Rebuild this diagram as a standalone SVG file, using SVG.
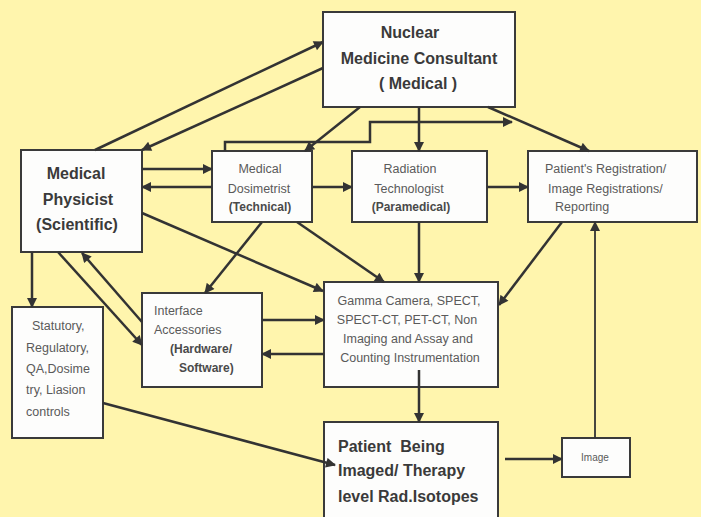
<svg xmlns="http://www.w3.org/2000/svg" width="701" height="517" viewBox="0 0 701 517">
<style>
.box{fill:#fdfdfc;stroke:#3a3a3a;stroke-width:2}
.big{font-family:"Liberation Sans",Arial,sans-serif;font-weight:bold;font-size:16px;fill:#3a3a3a}
.sm{font-family:"Liberation Sans",Arial,sans-serif;font-size:12.5px;fill:#5a5a5a}
.smb{font-family:"Liberation Sans",Arial,sans-serif;font-size:12px;font-weight:bold;fill:#4a4a4a}
.c{text-anchor:middle}
.la{fill:none;stroke:#333;stroke-width:2.5;marker-end:url(#ah)}
.lt{fill:none;stroke:#333;stroke-width:1.8;marker-end:url(#ah)}
</style>
<defs>
<marker id="ah" viewBox="0 0 10 10" refX="9" refY="5" markerWidth="11" markerHeight="10" markerUnits="userSpaceOnUse" orient="auto">
<path d="M0,0 L10,5 L0,10 z" fill="#333"/>
</marker>
</defs>
<rect width="701" height="517" fill="#fff5ad"/>

<g id="consultant">
<rect class="box" x="323" y="12" width="192" height="95"/>
<text class="big c" x="410" y="38">Nuclear</text>
<text class="big c" x="419" y="64">Medicine Consultant</text>
<text class="big c" x="418" y="89">( Medical )</text>
</g>

<g id="physicist">
<rect class="box" x="21" y="150" width="121" height="102"/>
<text class="big c" x="76" y="179">Medical</text>
<text class="big c" x="78" y="205">Physicist</text>
<text class="big c" x="77" y="230">(Scientific)</text>
</g>

<g id="dosimetrist">
<rect class="box" x="212" y="151" width="100" height="71"/>
<text class="sm c" x="260" y="173">Medical</text>
<text class="sm c" x="259" y="193">Dosimetrist</text>
<text class="smb c" x="260" y="211">(Technical)</text>
</g>

<g id="radtech">
<rect class="box" x="352" y="151" width="135" height="71"/>
<text class="sm c" x="410" y="173">Radiation</text>
<text class="sm c" x="409" y="193">Technologist</text>
<text class="smb c" x="411" y="211">(Paramedical)</text>
</g>

<g id="registration">
<rect class="box" x="528" y="151" width="169" height="71"/>
<text class="sm" x="545" y="173">Patient's Registration/</text>
<text class="sm" x="548" y="193">Image Registrations/</text>
<text class="sm" x="555" y="211">Reporting</text>
</g>

<g id="statutory">
<rect class="box" x="12" y="307" width="91" height="131"/>
<text class="sm" x="32" y="330">Statutory,</text>
<text class="sm" x="26" y="352">Regulatory,</text>
<text class="sm" x="26" y="373">QA,Dosime</text>
<text class="sm" x="26" y="394">try, Liasion</text>
<text class="sm" x="26" y="416">controls</text>
</g>

<g id="interface">
<rect class="box" x="142" y="293" width="120" height="94"/>
<text class="sm" x="154" y="315">Interface</text>
<text class="sm" x="154" y="334">Accessories</text>
<text class="smb" x="170" y="353">(Hardware/</text>
<text class="smb" x="179" y="372">Software)</text>
</g>

<g id="gamma">
<rect class="box" x="324" y="282" width="174" height="105"/>
<text class="sm c" x="409" y="305">Gamma Camera, SPECT,</text>
<text class="sm c" x="407" y="324">SPECT-CT, PET-CT, Non</text>
<text class="sm c" x="408" y="343">Imaging and Assay and</text>
<text class="sm c" x="410" y="362">Counting Instrumentation</text>
</g>

<g id="patient">
<rect class="box" x="324" y="422" width="174" height="100"/>
<text class="big" x="338" y="452" xml:space="preserve">Patient  Being</text>
<text class="big" x="338" y="476">Imaged/ Therapy</text>
<text class="big" x="338" y="502">level Rad.Isotopes</text>
</g>

<g id="image">
<rect class="box" x="562" y="438" width="68" height="39"/>
<text class="sm c" x="595" y="461" style="font-size:10px">Image</text>
</g>

<g id="connectors">
<line class="la" x1="95" y1="150" x2="323" y2="42"/>
<line class="la" x1="323" y1="68" x2="142" y2="150"/>
<line class="la" x1="360" y1="107" x2="305" y2="151"/>
<polyline class="la" points="225,151 225,142 370,142 370,122 512,122"/>
<line class="la" x1="419" y1="107" x2="419" y2="151"/>
<line class="la" x1="488" y1="107" x2="589" y2="151"/>
<line class="la" x1="142" y1="169" x2="212" y2="169"/>
<line class="la" x1="212" y1="187" x2="142" y2="187"/>
<line class="la" x1="312" y1="187" x2="352" y2="187"/>
<line class="la" x1="487" y1="187" x2="528" y2="187"/>
<line class="la" x1="142" y1="213" x2="323" y2="291"/>
<line class="la" x1="297" y1="222" x2="384" y2="282"/>
<line class="la" x1="262" y1="222" x2="205" y2="293"/>
<line class="la" x1="419" y1="222" x2="419" y2="282"/>
<line class="la" x1="562" y1="222" x2="499" y2="305"/>
<line class="lt" x1="595" y1="438" x2="595" y2="222"/>
<line class="la" x1="262" y1="320" x2="324" y2="320"/>
<line class="la" x1="324" y1="354" x2="262" y2="354"/>
<line class="la" x1="32" y1="252" x2="32" y2="307"/>
<line class="la" x1="58" y1="252" x2="142" y2="345"/>
<line class="la" x1="142" y1="322" x2="82" y2="253"/>
<line class="la" x1="419" y1="370" x2="419" y2="422"/>
<line class="la" x1="103" y1="403" x2="335" y2="465"/>
<line class="la" x1="505" y1="459" x2="562" y2="459"/>
</g>
</svg>
